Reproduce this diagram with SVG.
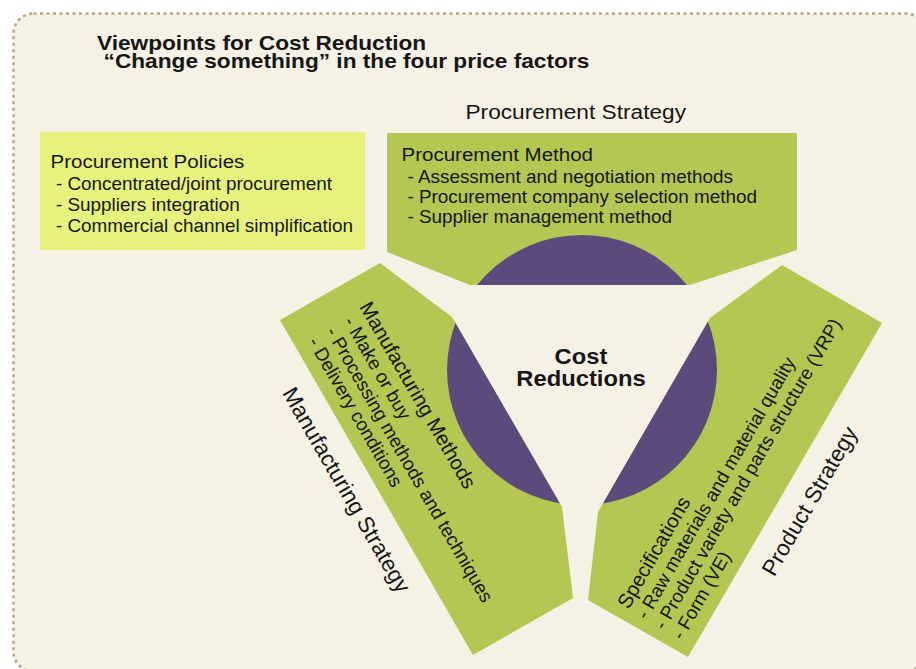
<svg xmlns="http://www.w3.org/2000/svg" width="916" height="669" viewBox="0 0 916 669">
<style>
.t{font-family:"Liberation Sans",Arial,Helvetica,sans-serif;fill:#161616}
.b{font-weight:bold}
.h{font-size:19px}
.i{font-size:17.5px}
.rh{font-size:20.3px}
.ri{font-size:18.8px}
.s{font-size:21px}
.rs{font-size:22.5px}
.green{fill:#b3c752}
</style>
<defs>
<clipPath id="shapesClip">
<polygon points="387,133 797,133 797,250 690,285 470,285 387,252"/>
<polygon points="380,263 452,317 562,507 573,598 473,655 280,320"/>
<polygon points="782,265 882,323 688,657 588,600 598,512 710,318"/>
</clipPath>
</defs>
<rect id="frame" x="13.5" y="13.5" width="912" height="658" rx="20" ry="20" fill="#f5f1e4" stroke="#b9a57c" stroke-width="2.5" stroke-dasharray="3 3.5"/>
<g id="title">
<g transform="translate(97,50) scale(1.105,1)">
<text class="t b" x="0" y="0" font-size="20.5">Viewpoints for Cost Reduction</text>
<text class="t b" x="6" y="17.5" font-size="20.5">“Change something” in the four price factors</text>
</g>
</g>
<g id="procurement-policies">
<rect x="40" y="132" width="325" height="118" fill="#e6f27c"/>
<g transform="translate(50.5,167.5) scale(1.08,1)">
<text class="t h" x="0" y="0">Procurement Policies</text>
<text class="t i" x="5" y="22.5">- Concentrated/joint procurement</text>
<text class="t i" x="5" y="43.5">- Suppliers integration</text>
<text class="t i" x="5" y="64.5">- Commercial channel simplification</text>
</g>
</g>
<g id="procurement-method">
<polygon class="green" points="387,133 797,133 797,250 690,285 470,285 387,252"/>
<g transform="translate(401.5,161) scale(1.08,1)">
<text class="t h" x="0" y="0">Procurement Method</text>
<text class="t i" x="5.5" y="22">- Assessment and negotiation methods</text>
<text class="t i" x="5.5" y="42">- Procurement company selection method</text>
<text class="t i" x="5.5" y="62">- Supplier management method</text>
</g>
<g transform="translate(465.5,119) scale(1.08,1)">
<text class="t s" x="0" y="0">Procurement Strategy</text>
</g>
</g>
<g id="manufacturing-methods">
<polygon class="green" points="380,263 452,317 562,507 573,598 473,655 280,320"/>
<g transform="translate(280,320) rotate(60)">
<text class="t rh" x="28" y="-75">Manufacturing Methods</text>
<text class="t ri" x="33" y="-54">- Make or buy</text>
<text class="t ri" x="33" y="-33.5">- Processing methods and techniques</text>
<text class="t ri" x="33" y="-13">- Delivery conditions</text>
<text class="t rs" x="64" y="35">Manufacturing Strategy</text>
</g>
</g>
<g id="specifications">
<polygon class="green" points="782,265 882,323 688,657 588,600 598,512 710,318"/>
<g transform="translate(688,657) rotate(-60)">
<text class="t rh" x="11" y="-75">Specifications</text>
<text class="t ri" x="11" y="-54">- Raw materials and material quality</text>
<text class="t ri" x="11" y="-33.5">- Product variety and parts structure (VRP)</text>
<text class="t ri" x="11" y="-13">- Form (VE)</text>
<text class="t rs" x="112" y="35">Product Strategy</text>
</g>
</g>
<g id="cost-reductions">
<circle cx="582" cy="370" r="135" fill="#5c4a7d" clip-path="url(#shapesClip)"/>
<g transform="translate(581,364) scale(1.08,1)">
<text class="t b" x="0" y="0" font-size="22" text-anchor="middle">Cost</text>
<text class="t b" x="0" y="22.5" font-size="22" text-anchor="middle">Reductions</text>
</g>
</g>
</svg>
